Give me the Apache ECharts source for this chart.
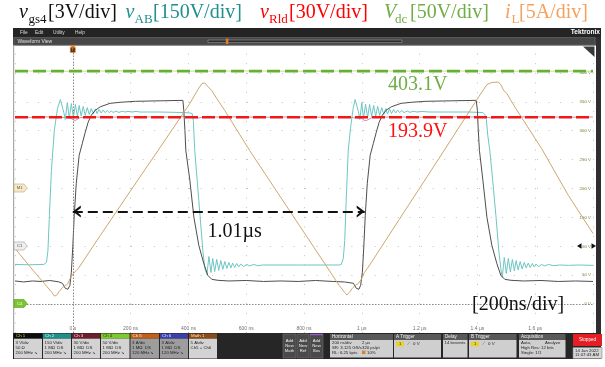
<!DOCTYPE html>
<html>
<head>
<meta charset="utf-8">
<script src="https://cdn.jsdelivr.net/npm/echarts@6.0.0/dist/echarts.min.js"></script>
<style>
html, body { margin: 0; padding: 0; background: #fff; }
#chart { width: 605px; height: 367px; }
</style>
</head>
<body>
<div id="chart"></div>
<script>
// ---- time base (ns) and tick labels ----
const timeMin = -200;
const timeMax = 1800;
const timePerDiv = 200;
const timeTickLabels = { 0: '0 s', 200: '200 ns', 400: '400 ns', 600: '600 ns', 800: '800 ns',
  1000: '1 µs', 1200: '1.2 µs', 1400: '1.4 µs', 1600: '1.6 µs' };
const ch4TickLabels = { 0: '0 V', 50: '50 V', 100: '100 V', 150: '150 V', 200: '200 V',
  250: '250 V', 300: '300 V', 350: '350 V', 400: '400 V' };

// ---- measured values ----
const vdcMean = 403.1;      // V
const vRldMean = 193.9;     // V
const periodUs = 1.01;      // µs
const arrowLevel = 160;     // V on the Ch4 scale

// ---- waveforms: [time ns, value] ----
const vAB = [
  [-200,-394],[-150,-396],[-100,-394],[-91,-384],[-86,-322],[-81,-140],[-74,93],[-64,301],[-53,415],[-43,462],[-38,472],
  [-31,394],[-26,358],[-19,446],[-12,363],[-5,441],[2,368],[9,436],[16,373],[22,431],[29,376],[36,426],[43,379],[50,420],
  [57,384],[64,415],[71,387],[78,413],[84,389],[91,410],[98,392],[105,407],[112,394],[119,405],[126,394],[133,402],[140,395],
  [150,401],[160,395],[171,401],[181,397],[191,400],[205,397],[219,400],[233,397],[300,397],[390,394],[405,392],
  [413,389],[417,353],[422,197],[436,-62],[450,-322],[457,-415],[464,-446],
  [471,-353],[478,-436],[484,-363],[491,-431],[498,-368],[505,-425],[512,-374],[519,-420],[526,-379],[533,-415],[540,-384],
  [547,-412],[553,-387],[560,-410],[567,-389],[574,-407],[581,-392],[591,-405],[602,-394],[612,-402],[626,-394],[640,-401],
  [657,-397],[784,-397],[922,-397],
  [929,-394],[936,-363],[941,-270],[946,-62],[953,197],[962,327],[970,415],[977,462],[983,472],
  [988,400],[993,358],[1000,446],[1006,363],[1013,438],[1020,368],[1027,436],[1034,373],[1041,431],[1048,376],[1055,426],
  [1062,379],[1069,420],[1076,384],[1083,415],[1089,387],[1096,413],[1103,389],[1110,410],[1117,392],[1124,407],[1131,394],
  [1138,405],[1146,394],[1157,402],[1167,395],[1177,401],[1191,397],[1209,400],[1233,397],[1371,397],[1419,394],
  [1426,384],[1431,358],[1436,275],[1443,197],[1453,42],[1464,-140],[1474,-322],[1481,-415],[1486,-462],
  [1493,-358],[1500,-441],[1507,-363],[1514,-433],[1521,-368],[1528,-428],[1534,-374],[1541,-423],[1548,-379],[1555,-418],
  [1562,-384],[1569,-412],[1576,-387],[1583,-410],[1590,-389],[1596,-407],[1603,-392],[1612,-405],[1622,-394],[1633,-402],
  [1646,-394],[1664,-401],[1684,-397],[1715,-399],[1750,-397],[1800,-399]
];

const vgs4 = [
  [-200,-3.6],[-170,-3.7],[-140,-3.6],[-110,-3.65],[-80,-3.55],[-50,-3.68],[-36,-3.84],[-26,-4.36],[-17,-4.46],[-10,-4.05],
  [-5,-2.7],[0,0],[5,3.22],[12,6.54],[22,9.45],[33,10.69],[43,11.83],[53,12.87],[64,13.6],[78,14.12],[95,14.48],[129,14.84],
  [164,14.95],[216,15.05],[302,15.1],[381,15.15],
  [384,14.12],[388,12.04],[391,9.96],[405,6.85],[419,3.01],[436,0.1],[453,-1.76],[467,-3.01],[481,-3.43],[502,-3.53],
  [540,-3.6],[600,-3.55],[660,-3.65],[720,-3.6],[780,-3.65],[840,-3.55],[900,-3.65],[940,-3.7],
  [971,-3.84],[981,-4.36],[990,-4.46],[996,-4.05],[1002,-2.7],[1007,0],[1012,3.22],[1019,6.54],[1029,9.45],[1040,10.69],
  [1050,11.83],[1060,12.87],[1071,13.6],[1084,14.12],[1102,14.48],[1136,14.84],[1171,14.95],[1222,15.05],[1309,15.1],[1396,15.15],
  [1400,14.12],[1403,12.04],[1407,9.96],[1419,6.85],[1433,3.01],[1450,0.1],[1467,-1.76],[1481,-3.01],[1495,-3.43],[1516,-3.53],
  [1560,-3.6],[1620,-3.55],[1680,-3.65],[1740,-3.6],[1800,-3.65]
];

const iL = [
  [-200,-10.38],[-147,-13.6],[-95,-16.66],[-74,-17.87],[-64,-18.6],[-57,-18.51],[-47,-17.82],[-36,-17.13],[-26,-16.78],
  [-19,-16.61],[-9,-15.57],[2,-14.71],[12,-14.19],[19,-13.84],[95,-8.13],[198,-0.52],[302,7.09],[405,14.71],[433,17.13],
  [447,18.17],[457,18.25],[467,17.65],[481,16.95],[498,15.57],[526,13.49],[612,6.57],[784,-6.4],[922,-16.78],[941,-17.99],
  [948,-18.42],[957,-17.99],[967,-17.3],[977,-16.78],[988,-16.44],[998,-15.74],[1009,-14.53],[1019,-13.84],[1033,-12.8],
  [1129,-5.4],[1267,5.2],[1405,15.9],[1433,17.99],[1450,18.34],[1471,18.42],[1481,17.99],[1491,16.95],[1502,16.44],
  [1516,15.22],[1533,13.84],[1622,6.92],[1715,-1.21],[1800,-7.79]
];

const vRldTrace = [
  [-200,194.2],[-150,193.8],[-100,194.4],[-60,194.0],[-20,193.6],[-5,192.5],[0,191.0],[8,190.5],[15,191.8],[25,193.5],
  [60,194.3],[120,193.9],[200,194.5],[300,194.1],[400,194.6],[430,193.2],[460,194.0],[550,194.4],[650,193.9],[750,194.3],
  [850,194.0],[950,194.2],[1000,192.6],[1008,190.8],[1016,190.5],[1025,192.0],[1035,193.6],[1100,194.3],[1200,194.0],
  [1300,194.4],[1420,194.2],[1450,193.3],[1480,194.1],[1600,194.4],[1700,194.0],[1800,194.2]
];

const vdcTrace = [
  [-200,403.4],[0,402.8],[200,403.5],[400,403.0],[600,403.3],[800,402.9],[1000,403.4],[1200,403.0],[1400,403.3],[1600,402.9],[1800,403.2]
];

// ---- overlay drawing helpers (screen chrome, tags, annotations) ----
const SANS = 'Liberation Sans';
const SERIF = 'Liberation Serif';
const G = [];
function box(x, y, w, h, fill, stroke, z) {
  G.push({ type: 'rect', silent: true, z: z || 20, shape: { x: x, y: y, width: w, height: h },
    style: { fill: fill, stroke: stroke || null, lineWidth: stroke ? 0.6 : 0 } });
}
function poly(points, fill, stroke, z) {
  G.push({ type: 'polygon', silent: true, z: z || 24, shape: { points: points },
    style: { fill: fill, stroke: stroke || null, lineWidth: stroke ? 0.6 : 0 } });
}
function txt(x, y, s, size, color, o) {
  o = o || {};
  G.push({ type: 'text', silent: true, z: o.z || 26, x: x, y: y,
    style: { text: s, fontSize: size, fill: color, fontFamily: o.font || SANS,
      fontStyle: o.italic ? 'italic' : 'normal', fontWeight: o.bold ? 'bold' : 'normal',
      align: o.align || 'left', verticalAlign: 'middle' } });
}

// channel headings across the top
const headings = [
  { sym: 'v', sub: 'gs4', rest: '[3V/div]', color: '#111111', x: [19, 28.5, 48] },
  { sym: 'v', sub: 'AB', rest: '[150V/div]', color: '#1f8f8f', x: [125.5, 134.5, 153] },
  { sym: 'v', sub: 'Rld', rest: '[30V/div]', color: '#ff0000', x: [260, 269, 289] },
  { sym: 'V', sub: 'dc', rest: '[50V/div]', color: '#70ad47', x: [384, 395, 410] },
  { sym: 'i', sub: 'L', rest: '[5A/div]', color: '#f4a15d', x: [505, 511.5, 519] }
];
headings.forEach(function (h) {
  txt(h.x[0], 13.2, h.sym, 20, h.color, { font: SERIF, italic: true });
  txt(h.x[1], 19.2, h.sub, 13, h.color, { font: SERIF });
  txt(h.x[2], 13.2, h.rest, 20, h.color, { font: SERIF });
});

// menu bar and waveform view bar
box(13, 28, 588, 9, '#242424');
txt(20, 32.5, 'File', 4.8, '#dddddd');
txt(35, 32.5, 'Edit', 4.8, '#dddddd');
txt(53, 32.5, 'Utility', 4.8, '#dddddd');
txt(75, 32.5, 'Help', 4.8, '#dddddd');
txt(600, 32.3, 'Tektronix', 6.6, '#ffffff', { bold: true, align: 'right' });
box(13, 37, 588, 8.5, '#3e3e3e');
box(14, 37.6, 581, 7.4, '#474747', '#6a6a6a');
txt(17.5, 41.3, 'Waveform View', 5, '#e0e0e0');
box(208, 40, 194, 2.6, '#2c2c2c', '#9a9a9a');
box(225.8, 38.6, 2.6, 5.4, '#d9822b', null, 22);
// frame borders
box(13, 45, 1.2, 288, '#a8a8a8');
box(596, 37, 5, 296, '#2e2e2e');
poly([[583, 46.5], [594.5, 46.5], [594.5, 57]], '#3a3a3a');
// trigger flag
poly([[69.5, 45.3], [76.1, 45.3], [72.8, 48.3]], '#e0822a');
box(70.3, 47.4, 5, 5, '#5a3515', '#e0822a', 24);
txt(72.8, 50, 'T', 4, '#f0a050', { align: 'center' });

// reference tags on the left edge
function tag(y, label, fill, stroke, color) {
  poly([[14, y - 4], [24, y - 4], [27.2, y], [24, y + 4], [14, y + 4]], fill, stroke);
  txt(19.6, y + 0.2, label, 4.2, color, { align: 'center' });
}
tag(188, 'M1', '#f4e8cc', '#c8a46a', '#6b5533');
tag(246, 'C1', '#efefef', '#9a9a9a', '#444444');
tag(303.5, 'C4', '#7cc42e', '#5c9a20', '#ffffff');
// offset marker on the right edge
poly([[577, 246], [581.5, 243.3], [581.5, 248.7]], '#111111');
poly([[596, 246], [591.5, 243.3], [591.5, 248.7]], '#111111');

// annotations
txt(388, 85, vdcMean.toFixed(1) + 'V', 20, '#70ad47', { font: SERIF });
txt(388, 132, vRldMean.toFixed(1) + 'V', 20, '#ff1010', { font: SERIF });
txt(207.5, 232, periodUs.toFixed(2) + 'µs', 20, '#111111', { font: SERIF });
txt(472, 305, '[' + timePerDiv + 'ns/div]', 20, '#111111', { font: SERIF });

// bottom status panel
box(13, 333, 588, 26, '#262626');
const badges = [
  { x: 14, w: 28, head: '#0d0d0d', hc: '#e6d34a', name: 'Ch 1', body: '#d3d3d3', lines: ['3 V/div', '50 Ω', '200 MHz ↘'] },
  { x: 43, w: 28, head: '#1f8f8a', hc: '#e8ffff', name: 'Ch 2', body: '#d3d3d3', lines: ['150 V/div', '1 MΩ  DS', '200 MHz ↘'] },
  { x: 72, w: 28, head: '#6e1e2a', hc: '#ffe0e0', name: 'Ch 3', body: '#d3d3d3', lines: ['30 V/div', '1 MΩ  DS', '200 MHz ↘'] },
  { x: 101, w: 28.5, head: '#7ec832', hc: '#1d3a08', name: 'Ch 4', body: '#d3d3d3', lines: ['50 V/div', '1 MΩ  DS', '200 MHz ↘'] },
  { x: 130.5, w: 28.5, head: '#c0601c', hc: '#fff0e0', name: 'Ch 5', body: '#9d9d9d', lines: ['3 A/div', '1 MΩ  DS', '120 MHz ↘'] },
  { x: 160, w: 28, head: '#3a40a8', hc: '#e8e8ff', name: 'Ch 6', body: '#9d9d9d', lines: ['3 A/div', '1 MΩ  DS', '120 MHz ↘'] },
  { x: 189, w: 28, head: '#8a4b14', hc: '#ffe8cc', name: 'Math 1', body: '#d3d3d3', lines: ['5 A/div', 'Ch5 + Ch6'] }
];
badges.forEach(function (b) {
  box(b.x, 333.5, b.w, 5.2, b.head);
  txt(b.x + 2, 336.1, b.name, 4.4, b.hc);
  box(b.x, 338.7, b.w, 19.8, b.body);
  b.lines.forEach(function (l, i) { txt(b.x + 1.6, 342.4 + i * 5, l, 4.3, '#222222'); });
});
[[283, 13, 'Math'], [297, 12, 'Ref'], [310, 13, 'Bus']].forEach(function (a) {
  box(a[0], 334, a[1], 24, '#4a4a4a', '#707070');
  txt(a[0] + a[1] / 2, 341.3, 'Add', 4.2, '#f0f0f0', { align: 'center' });
  txt(a[0] + a[1] / 2, 346.3, 'New', 4.2, '#f0f0f0', { align: 'center' });
  txt(a[0] + a[1] / 2, 351.3, a[2], 4.2, '#f0f0f0', { align: 'center' });
});
box(310, 334, 13, 1.2, '#9a5ad0', null, 22);
function panel(x, w, title) {
  box(x, 334, w, 6, '#595959');
  txt(x + 2, 337, title, 4.6, '#f2f2f2');
  box(x, 340, w, 17.5, '#cfcfcf');
}
panel(330, 63, 'Horizontal');
txt(332, 343.2, '200 ns/div', 4.3, '#222');  txt(362, 343.2, '2 µs', 4.3, '#222');
txt(332, 347.8, 'SR: 3.125 GS/s', 4.3, '#222');  txt(362, 347.8, '320 ps/pt', 4.3, '#222');
txt(332, 352.4, 'RL: 6.25 kpts', 4.3, '#222');
box(362, 350.6, 3.4, 3.4, '#d9822b', null, 23);  txt(367, 352.4, '10%', 4.3, '#222');
panel(394, 47, 'A Trigger');
box(396, 341.6, 8, 4.8, '#e6d12e', null, 23);  txt(400, 344, '1', 4, '#333', { align: 'center' });
txt(407, 344, '⟋', 4.5, '#555');  txt(413, 344, '0 V', 4.4, '#222');
panel(443, 24.5, 'Delay');
txt(444.5, 343.2, '14 kevents', 4.3, '#222');
panel(469, 47.5, 'B Trigger');
box(471, 341.6, 8, 4.8, '#e6d12e', null, 23);  txt(475, 344, '1', 4, '#333', { align: 'center' });
txt(482, 344, '⟋', 4.5, '#555');  txt(488, 344, '0 V', 4.4, '#222');
panel(519, 46.5, 'Acquisition');
txt(521, 343.2, 'Auto,', 4.3, '#222');  txt(545, 343.2, 'Analyze', 4.3, '#222');
txt(521, 347.8, 'High Res: 12 bits', 4.3, '#222');
txt(521, 352.4, 'Single: 1/1', 4.3, '#222');
box(573, 334, 29, 12, '#e41e24');
txt(587.5, 340, 'Stopped', 4.6, '#ffffff', { align: 'center' });
box(573, 347.5, 29, 11, '#d6d6d6', '#888888');
txt(575, 350.5, '14 Jan 2022', 4.3, '#222');
txt(575, 355.3, '11:07:43 AM', 4.3, '#222');

// open chevron arrowhead, tip at the symbol centre
const chevron = 'path://M0,0 L0.01,0 L0,0.01 Z M16,0 L15.99,0 L16,0.01 Z M2,16 L8,8 L14,16 L11.6,16 L8,11.6 L4.4,16 Z';

const chart = echarts.init(document.getElementById('chart'), null, { renderer: 'canvas', width: 605, height: 367 });
const trace = { type: 'line', showSymbol: false, symbol: 'none', silent: true, animation: false, z: 3 };
const option = {
  animation: false,
  backgroundColor: '#ffffff',
  grid: { left: 15, top: 44, width: 578, height: 289, show: false, containLabel: false, outerBoundsMode: 'none' },
  xAxis: {
    type: 'value', min: timeMin, max: timeMax, interval: timePerDiv,
    axisLine: { show: false }, axisTick: { show: false },
    axisLabel: { inside: true, margin: 1.8, fontSize: 5, color: '#707070', fontFamily: SANS,
      showMinLabel: true, showMaxLabel: true,
      formatter: function (v) { return timeTickLabels[v] || ''; } },
    splitLine: { show: true, lineStyle: { color: '#c2c2c2', width: 1, type: [1, 8.6] } }
  },
  yAxis: [
    { type: 'value', position: 'right', min: -50, max: 450, interval: 50,
      axisLine: { show: false }, axisTick: { show: false },
      axisLabel: { inside: true, margin: 2, fontSize: 4.4, color: '#6f8a3c', fontFamily: SANS,
        formatter: function (v) { return ch4TickLabels[v] || ''; } },
      splitLine: { show: true, lineStyle: { color: '#c2c2c2', width: 1, type: [1, 10.6] } } },
    { type: 'value', min: -750, max: 750, show: false, splitLine: { show: false } },
    { type: 'value', min: -30, max: 270, show: false, splitLine: { show: false } },
    { type: 'value', min: -9, max: 21, show: false, splitLine: { show: false } },
    { type: 'value', min: -25, max: 25, show: false, splitLine: { show: false } }
  ],
  series: [
    Object.assign({}, trace, { name: 'Ch4', yAxisIndex: 0, data: vdcTrace, lineStyle: { width: 1, color: '#d9d3a6' },
      markLine: { silent: true, symbol: 'none', animation: false, label: { show: false },
        lineStyle: { color: '#8c8c8c', width: 1, type: [1.5, 1.5] },
        data: [{ xAxis: 0 }, { yAxis: 0 }] } }),
    Object.assign({}, trace, { name: 'Ch3', yAxisIndex: 2, data: vRldTrace, lineStyle: { width: 1, color: '#c98fb5' } }),
    Object.assign({}, trace, { name: 'Ch2', yAxisIndex: 1, data: vAB, lineStyle: { width: 1, color: '#6fc6c2' } }),
    Object.assign({}, trace, { name: 'Ch1', yAxisIndex: 3, data: vgs4, lineStyle: { width: 1, color: '#4e4e4e' } }),
    Object.assign({}, trace, { name: 'Math1', yAxisIndex: 4, data: iL, lineStyle: { width: 1, color: '#cfa66e' } }),
    Object.assign({}, trace, { name: 'Vdc mean', yAxisIndex: 0, z: 5,
      data: [[timeMin, vdcMean], [timeMax, vdcMean]],
      lineStyle: { width: 2.6, color: '#66b032', type: [13, 5] },
      markLine: { silent: true, animation: false, symbol: [chevron, chevron], symbolSize: 16, label: { show: false },
        lineStyle: { color: '#111111', width: 2.2, type: [10, 5] },
        data: [[{ coord: [0, arrowLevel] }, { coord: [periodUs * 1000, arrowLevel] }]] } }),
    Object.assign({}, trace, { name: 'vRld mean', yAxisIndex: 2, z: 5,
      data: [[timeMin, vRldMean], [timeMax, vRldMean]],
      lineStyle: { width: 2.6, color: '#f01818', type: [13, 4] } })
  ],
  graphic: G
};
chart.setOption(option);
</script>
</body>
</html>
